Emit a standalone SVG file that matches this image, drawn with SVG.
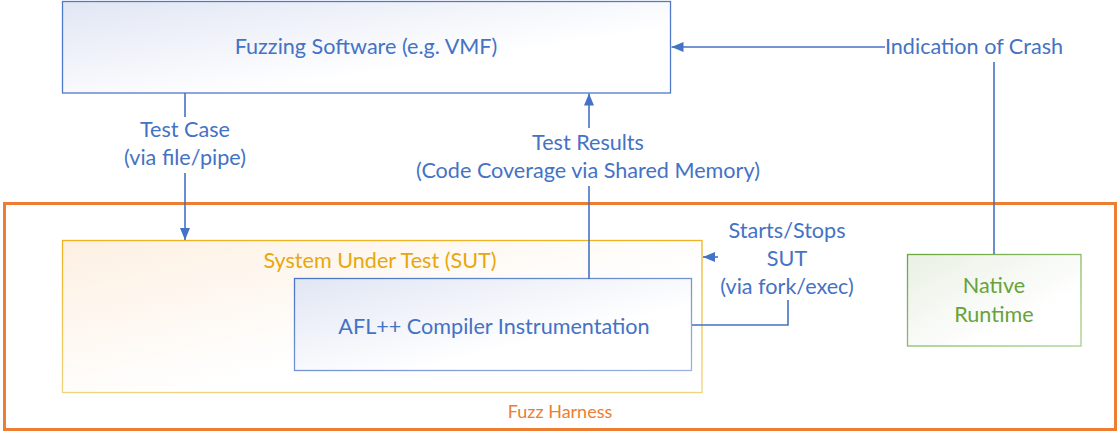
<svg xmlns="http://www.w3.org/2000/svg" width="1120" height="434" viewBox="0 0 1120 434">
  <style>
    .lbl { font-family: Lato, "Open Sans", "Liberation Sans", sans-serif; font-size: 21.6px; fill: #4472C4; text-anchor: middle; }
    .sut { fill: #E8A70C; }
    .nat { fill: #67A23B; }
    .harn { font-size: 18px; fill: #ED7D31; }
    .conn { fill: none; stroke: #4472C4; stroke-width: 1.6; }
  </style>
  <defs>
    <linearGradient id="gBlue" x1="0" y1="0" x2="1" y2="1">
      <stop offset="0" stop-color="#E1E6F4"/>
      <stop offset="0.65" stop-color="#FFFFFF"/>
    </linearGradient>
    <linearGradient id="gBlueStroke" x1="0" y1="0" x2="1" y2="1">
      <stop offset="0" stop-color="#4A74C5"/>
      <stop offset="1" stop-color="#9CB2DD"/>
    </linearGradient>
    <linearGradient id="gOrange" x1="0" y1="0" x2="1" y2="1">
      <stop offset="0" stop-color="#FDF0E2"/>
      <stop offset="0.6" stop-color="#FFFFFF"/>
    </linearGradient>
    <linearGradient id="gOrangeStroke" x1="0" y1="0" x2="0" y2="1">
      <stop offset="0" stop-color="#EDB321"/>
      <stop offset="1" stop-color="#EED47E"/>
    </linearGradient>
    <linearGradient id="gGreen" x1="0" y1="0" x2="1" y2="1">
      <stop offset="0" stop-color="#E9F0E4"/>
      <stop offset="0.7" stop-color="#FFFFFF"/>
    </linearGradient>
    <linearGradient id="gGreenStroke" x1="0" y1="0" x2="1" y2="1">
      <stop offset="0" stop-color="#6AA73F"/>
      <stop offset="1" stop-color="#A8CF8C"/>
    </linearGradient>
    <marker id="arr" viewBox="0 0 12 10" refX="12" refY="5" markerWidth="12" markerHeight="10" markerUnits="userSpaceOnUse" orient="auto">
      <path d="M0,0 L12,5 L0,10 z" fill="#4472C4"/>
    </marker>
  </defs>

  <g id="fuzz-harness">
    <rect x="4.5" y="203.5" width="1111" height="226" fill="#FFFFFF" stroke="#ED7D31" stroke-width="3"/>
    <text class="lbl harn" x="560" y="418">Fuzz Harness</text>
  </g>

  <g id="fuzzing-software">
    <rect x="62.5" y="1.5" width="608" height="91.5" fill="url(#gBlue)" stroke="#4F78C7" stroke-width="1.3"/>
    <text class="lbl" x="366" y="54">Fuzzing Software (e.g. VMF)</text>
  </g>

  <g id="sut">
    <rect x="62.5" y="240.5" width="639.5" height="152" fill="url(#gOrange)" stroke="url(#gOrangeStroke)" stroke-width="1.3"/>
    <text class="lbl sut" x="380" y="268">System Under Test (SUT)</text>
  </g>

  <g id="afl">
    <rect x="294.5" y="278.5" width="397" height="92" fill="url(#gBlue)" stroke="url(#gBlueStroke)" stroke-width="1.3"/>
    <text class="lbl" x="494" y="334">AFL++ Compiler Instrumentation</text>
  </g>

  <g id="native-runtime">
    <rect x="907.5" y="254.5" width="173.5" height="91.5" fill="url(#gGreen)" stroke="url(#gGreenStroke)" stroke-width="1.3"/>
    <text class="lbl nat" x="994" y="293">Native</text>
    <text class="lbl nat" x="994" y="322">Runtime</text>
  </g>

  <g id="connectors">
    <path class="conn" d="M185,93 V117"/>
    <path class="conn" d="M185,173 V240" marker-end="url(#arr)"/>
    <text class="lbl" x="185" y="137">Test Case</text>
    <text class="lbl" x="185" y="165">(via file/pipe)</text>

    <path class="conn" d="M589,279 V186"/>
    <path class="conn" d="M589,128 V93.5" marker-end="url(#arr)"/>
    <text class="lbl" x="588" y="150">Test Results</text>
    <text class="lbl" x="588" y="178">(Code Coverage via Shared Memory)</text>

    <path class="conn" d="M994,254 V62"/>
    <path class="conn" d="M885,47 H671.5" marker-end="url(#arr)"/>
    <text class="lbl" x="974" y="54">Indication of Crash</text>

    <path class="conn" d="M692,325 H788 V300"/>
    <path class="conn" d="M718,257 H703" marker-end="url(#arr)"/>
    <text class="lbl" x="787" y="238">Starts/Stops</text>
    <text class="lbl" x="787" y="266">SUT</text>
    <text class="lbl" x="787" y="294">(via fork/exec)</text>
  </g>
</svg>
